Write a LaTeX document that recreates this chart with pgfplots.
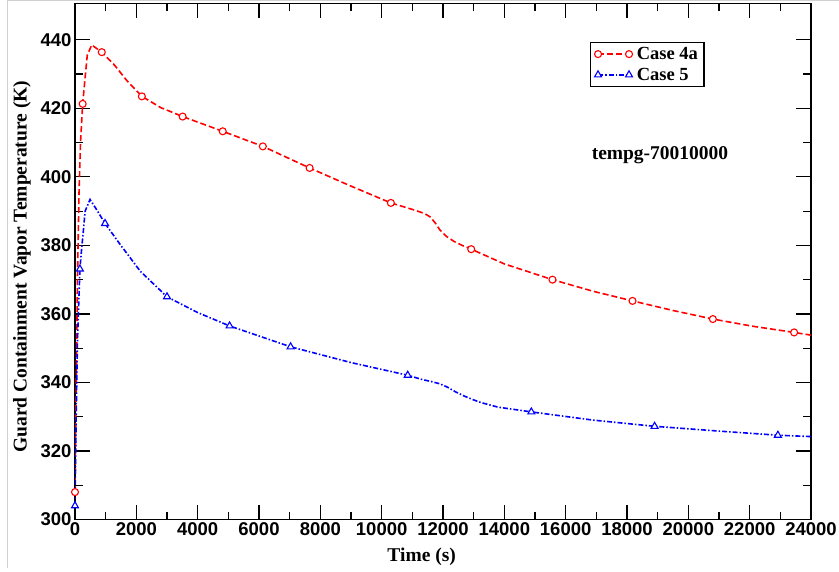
\documentclass[border=0pt]{standalone}
\usepackage{fontspec}
\setmainfont{Liberation Serif}
\newfontfamily\ticksans{Liberation Sans}
\usepackage{pgfplots}
\pgfplotsset{compat=1.18}
\begin{document}
\begin{tikzpicture}
\begin{axis}[
  scale only axis, width=736bp, height=516bp,
  xmin=0, xmax=24000, ymin=300, ymax=450.6,
  xtick={0,2000,...,24000}, ytick={300,320,...,440},
  minor x tick num=1, minor y tick num=1,
  tick pos=both, tick align=inside,
  major tick length=15bp, minor tick length=8bp,
  every tick/.style={black, line width=1.2bp},
  axis line style={line width=1.6bp},
  scaled x ticks=false,
  xticklabel style={/pgf/number format/1000 sep={}},
  /pgf/number format/assume math mode=true,
  ticklabel style={font=\ticksans\bfseries\fontsize{18.5bp}{20bp}\selectfont},
  xlabel={Time (s)},
  ylabel={Guard Containment Vapor Temperature (K)},
  label style={font=\bfseries\fontsize{19.5bp}{21bp}\selectfont},
  xlabel style={at={(axis description cs:0.471,-0.0717)}, anchor=center},
  ylabel style={at={(axis description cs:-0.072,0.49)}, anchor=center},
  legend style={at={(axis description cs:0.6997,0.926)}, anchor=north west,
    draw=black, line width=1.1bp, font=\bfseries\fontsize{18.5bp}{20bp}\selectfont,
    inner xsep=4bp, inner ysep=3bp, row sep=3bp},
  legend cell align=left,
  legend image code/.code={\draw[#1, mark indices={1,3}] plot coordinates {(0bp,0bp) (15bp,0bp) (31bp,0bp)};
    \path (36bp,0bp);},
]
\addplot[red, line width=1.6bp, dash pattern=on 6bp off 3bp,
  mark=*, mark size=3.5bp, mark options={solid, fill=white, draw=red, line width=1.1bp},
  mark indices={1,6,10,13,15,16,17,18,20,30,32,34,36,38}]
coordinates {
(0,308) (40,340) (80,370) (130,395) (180,410) (250,421.3) (330,429) (400,435.5)
(545,438.5) (873,436.4) (1300,432.5) (1700,428) (2180,423.5) (2800,420.2)
(3510,417.6) (4817,413.3) (6125,408.9) (7650,402.6) (9000,397.3) (10300,392.4)
(11000,390.5) (11400,389.3) (11600,388.2) (11750,386.5) (11900,384.5) (12100,382.7)
(12370,381.1) (12650,379.9) (12800,379.4)
(12920,378.9) (14000,374.6)
(15570,370) (16900,366.6) (18180,363.8) (19500,361) (20800,358.5) (22100,356.4)
(23450,354.6) (24000,353.8)
};
\addlegendentry{Case 4a}
\addplot[blue, line width=1.6bp, dash pattern=on 5bp off 2bp on 1.5bp off 2bp,
  mark=triangle*, mark size=4bp, mark options={solid, fill=white, draw=blue, line width=1.1bp},
  mark indices={1,4,10,13,15,16,18,28,30,32}]
coordinates {
(0,304) (30,325) (80,352) (160,373.1) (220,379.4) (270,384) (330,390) (490,393.4)
(700,390.5) (980,386.4) (1470,380.3) (2125,372.5) (3000,365) (4000,360.4)
(5040,356.5) (7030,350.4) (9000,345.8) (10850,342.1) (11300,340.9) (11600,340.3)
(11900,339.6) (12150,338.6) (12400,337.3) (12700,336) (13000,334.9) (13250,334.1)
(13790,332.8) (14880,331.4) (16900,329) (18900,327.2)
(21000,325.8) (22920,324.6) (24000,324.2)
};
\addlegendentry{Case 5}
\node[font=\bfseries\fontsize{19.5bp}{21bp}\selectfont, anchor=center] at (axis cs:19076,406.2) {tempg-70010000};
\end{axis}
\pgfresetboundingbox
\path[use as bounding box] (-75bp,-52bp) rectangle (764bp,519.5bp);
\draw[black!18, line width=1bp] (-67bp,-48bp) -- (-67bp,518.5bp) -- (764bp,518.5bp);
\end{tikzpicture}
\end{document}
